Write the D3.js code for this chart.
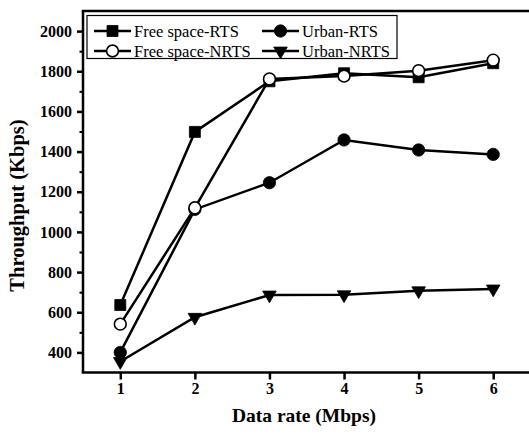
<!DOCTYPE html>
<html>
<head>
<meta charset="utf-8">
<script src="https://cdn.jsdelivr.net/npm/d3@7"></script>
<style>
body { margin: 0; background: #fff; overflow: hidden; }
svg { display: block; }
svg text { font-family: "Liberation Serif", "Times New Roman", serif; fill: #000; }
</style>
</head>
<body>
<div id="chart"></div>
<script>
// data rates (Mbps)
var dataRates = [1, 2, 3, 4, 5, 6];
// throughput values (Kbps)
var freeSpaceRTS = [636, 1498, 1750, 1790, 1770, 1840];
var freeSpaceNRTS = [541, 1120, 1762, 1776, 1803, 1855];
var urbanRTS = [400, 1112, 1245, 1458, 1408, 1386];
var urbanNRTS = [355, 575, 686, 687, 707, 716];
var seriesNames = ["Free space-RTS", "Free space-NRTS", "Urban-RTS", "Urban-NRTS"];
var xTickLabels = ["1", "2", "3", "4", "5", "6"];
var yMajorTicks = [400, 600, 800, 1000, 1200, 1400, 1600, 1800, 2000];
var yMinorTicks = [500, 700, 900, 1100, 1300, 1500, 1700, 1900];

var width = 529, height = 434;
var margin = {top: 11, right: -1.5, bottom: 61.5, left: 83};
var serif = "'Liberation Serif', 'Times New Roman', serif";

var svg = d3.select("#chart").append("svg")
    .attr("width", width).attr("height", height);

var x = d3.scaleLinear().domain([0.5, 6.5]).range([margin.left, width - margin.right]);
var y = d3.scaleLinear().domain([300, 2100]).range([height - margin.bottom, margin.top]);

// minor y ticks first so the axis line sits on top
svg.append("g")
    .attr("transform", "translate(" + margin.left + ",0)")
    .call(d3.axisLeft(y).tickValues(yMinorTicks).tickSize(3.5).tickFormat(""))
    .call(function(g){ g.select(".domain").remove(); })
    .selectAll("line").attr("stroke", "#000").attr("stroke-width", 2);

var yAxis = svg.append("g")
    .attr("transform", "translate(" + margin.left + ",0)")
    .call(d3.axisLeft(y).tickValues(yMajorTicks).tickFormat(d3.format("d"))
        .tickSize(6).tickPadding(5).tickSizeOuter(0));
yAxis.selectAll("line").attr("stroke", "#000").attr("stroke-width", 2.5);
yAxis.selectAll("text").style("font-family", serif).style("font-size", "16px").style("font-weight", "bold");

var xAxis = svg.append("g")
    .attr("transform", "translate(0," + y(300) + ")")
    .call(d3.axisBottom(x).tickValues(dataRates)
        .tickFormat(function(d, i){ return xTickLabels[i]; })
        .tickSize(7).tickPadding(3).tickSizeOuter(0));
xAxis.selectAll("line").attr("stroke", "#000").attr("stroke-width", 2.5);
xAxis.selectAll("text").style("font-family", serif).style("font-size", "16px").style("font-weight", "bold");
svg.selectAll(".domain").remove();

// frame: top, left and bottom (right side falls just outside the picture)
var frame = [
    [x(0.5) - 1.25, y(2100), width, y(2100)],
    [x(0.5), y(2100), x(0.5), y(300)],
    [x(0.5) - 1.25, y(300), width, y(300)]
];
frame.forEach(function(f){
    svg.append("line")
        .attr("x1", f[0]).attr("y1", f[1]).attr("x2", f[2]).attr("y2", f[3])
        .attr("stroke", "#000").attr("stroke-width", 2.5);
});

// axis titles
svg.append("text")
    .attr("x", 304).attr("y", 421.5)
    .attr("text-anchor", "middle")
    .style("font-size", "19.5px").style("font-weight", "bold")
    .text("Data rate (Mbps)");
svg.append("text")
    .attr("transform", "translate(23.5,205.5) rotate(-90)")
    .attr("text-anchor", "middle")
    .style("font-size", "20.5px").style("font-weight", "bold")
    .text("Throughput (Kbps)");

var symbols = {
    "Free space-RTS": {type: d3.symbolSquare, size: 121, fill: "#000"},
    "Free space-NRTS": {type: d3.symbolCircle, size: 110, fill: "#fff"},
    "Urban-RTS": {type: d3.symbolCircle, size: 120, fill: "#000"},
    "Urban-NRTS": {type: d3.symbolTriangle, size: 80, fill: "#000"}
};
var valuesByName = {
    "Free space-RTS": freeSpaceRTS,
    "Free space-NRTS": freeSpaceNRTS,
    "Urban-RTS": urbanRTS,
    "Urban-NRTS": urbanNRTS
};

function drawMarker(g, name, cx, cy) {
    var s = symbols[name];
    var rot = name == "Urban-NRTS" ? " rotate(180)" : "";
    g.append("path")
        .attr("d", d3.symbol().type(s.type).size(s.size)())
        .attr("transform", "translate(" + cx + "," + cy + ")" + rot)
        .attr("fill", s.fill)
        .attr("stroke", "#000")
        .attr("stroke-width", s.fill == "#fff" ? 1.6 : 0.8);
}

var line = d3.line()
    .x(function(d, i){ return x(dataRates[i]); })
    .y(function(d){ return y(d); });

// draw order so the open circles end up on top
var drawOrder = ["Free space-RTS", "Urban-RTS", "Urban-NRTS", "Free space-NRTS"];
drawOrder.forEach(function(name){
    var vals = valuesByName[name];
    var g = svg.append("g");
    g.append("path")
        .attr("d", line(vals))
        .attr("fill", "none")
        .attr("stroke", "#000")
        .attr("stroke-width", 2.5);
    vals.forEach(function(v, i){
        drawMarker(g, name, x(dataRates[i]), y(v));
    });
});

// legend
var legend = svg.append("g");
legend.append("rect")
    .attr("x", 87).attr("y", 15.5).attr("width", 310).attr("height", 43)
    .attr("fill", "#fff").attr("stroke", "#000").attr("stroke-width", 1.2);
var legendPos = [[94, 31], [94, 51], [262, 31], [262, 51]];
seriesNames.forEach(function(name, i){
    var lx = legendPos[i][0], ly = legendPos[i][1];
    legend.append("line")
        .attr("x1", lx).attr("x2", lx + 37)
        .attr("y1", ly).attr("y2", ly)
        .attr("stroke", "#000").attr("stroke-width", 2.5);
    drawMarker(legend, name, lx + 18.5, ly);
    legend.append("text")
        .attr("x", lx + 40).attr("y", ly + 5.5)
        .style("font-size", "16.5px")
        .text(name);
});
</script>
</body>
</html>
